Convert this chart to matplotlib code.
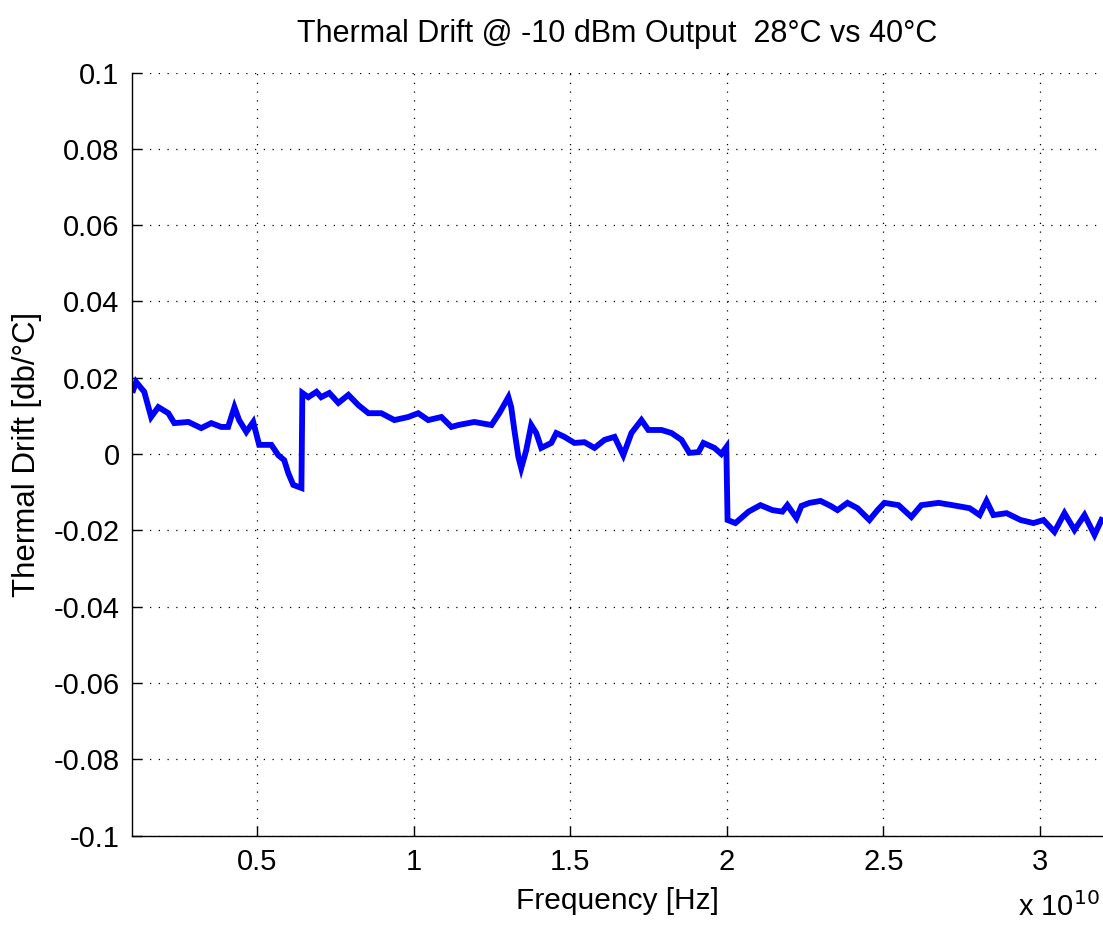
import numpy as np
import matplotlib
matplotlib.use("Agg")
import matplotlib.pyplot as plt
from matplotlib.ticker import FuncFormatter

# ==========================================
# Data
# ==========================================
freq_ghz = [1.04, 1.13, 1.39, 1.61, 1.84, 2.16, 2.35, 2.80, 3.21, 3.53, 3.85, 4.07, 4.27, 4.42, 4.65,
            4.87, 5.06, 5.45, 5.67, 5.86, 5.99, 6.15, 6.41, 6.44, 6.63, 6.89, 7.04, 7.30, 7.59, 7.91,
            8.23, 8.55, 8.96, 9.38, 9.82, 10.14, 10.46, 10.88, 11.20, 11.42, 11.93, 12.48, 12.73, 13.02,
            13.11, 13.21, 13.34, 13.43, 13.59, 13.75, 13.91, 14.07, 14.39, 14.55, 14.81, 15.13, 15.45,
            15.77, 16.09, 16.41, 16.69, 16.95, 17.27, 17.49, 17.91, 18.23, 18.55, 18.80, 19.09, 19.25,
            19.60, 19.82, 19.98, 20.02, 20.27, 20.69, 21.07, 21.45, 21.77, 21.93, 22.22, 22.38, 22.64,
            22.99, 23.31, 23.53, 23.85, 24.17, 24.55, 24.81, 25.03, 25.48, 25.89, 26.21, 26.76, 27.20,
            27.75, 28.07, 28.29, 28.51, 28.93, 29.38, 29.79, 30.11, 30.46, 30.78, 31.10, 31.42, 31.74,
            31.96]

drift_db = [0.0168, 0.0189, 0.0163, 0.0097, 0.0123, 0.0107, 0.0081, 0.0084, 0.0068, 0.0081, 0.0071,
            0.0071, 0.0123, 0.0089, 0.0058, 0.0084, 0.0024, 0.0024, -0.0003, -0.0016, -0.0050, -0.0081,
            -0.0089, 0.0160, 0.0149, 0.0163, 0.0149, 0.0160, 0.0134, 0.0155, 0.0128, 0.0107, 0.0107,
            0.0089, 0.0097, 0.0107, 0.0089, 0.0097, 0.0071, 0.0076, 0.0084, 0.0076, 0.0107, 0.0149,
            0.0123, 0.0063, -0.0008, -0.0037, 0.0010, 0.0076, 0.0055, 0.0016, 0.0029, 0.0055, 0.0045,
            0.0029, 0.0031, 0.0016, 0.0037, 0.0045, -0.0003, 0.0055, 0.0089, 0.0063, 0.0063, 0.0055,
            0.0037, 0.0003, 0.0005, 0.0029, 0.0016, 0.0000, 0.0018, -0.0173, -0.0181, -0.0151, -0.0134,
            -0.0147, -0.0151, -0.0134, -0.0168, -0.0136, -0.0128, -0.0123, -0.0136, -0.0147, -0.0128,
            -0.0142, -0.0173, -0.0147, -0.0128, -0.0134, -0.0165, -0.0134, -0.0128, -0.0134, -0.0142,
            -0.0160, -0.0123, -0.0160, -0.0155, -0.0173, -0.0181, -0.0173, -0.0204, -0.0155, -0.0199,
            -0.0160, -0.0212, -0.0173]

x_ticks = [0.5e10, 1.0e10, 1.5e10, 2.0e10, 2.5e10, 3.0e10]
y_ticks = [-0.1, -0.08, -0.06, -0.04, -0.02, 0, 0.02, 0.04, 0.06, 0.08, 0.1]

# ==========================================
# Plot
# ==========================================
plt.rcParams['font.family'] = ['Liberation Sans', 'DejaVu Sans']
plt.rcParams['axes.unicode_minus'] = False

fig = plt.figure(figsize=(11.03, 9.26), dpi=100)
ax = fig.add_axes([0.1197, 0.0977, 0.880, 0.824])

freq = np.array(freq_ghz) * 1e9
ax.plot(freq, drift_db, color=(0, 0, 1), lw=4.2, solid_joinstyle='miter')

ax.set_xlim(1e9, 3.2e10)
ax.set_ylim(-0.1, 0.1)
ax.set_xticks(x_ticks)
ax.set_yticks(y_ticks)
ax.xaxis.set_major_formatter(FuncFormatter(lambda v, p: '%g' % (v / 1e10)))
ax.yaxis.set_major_formatter(FuncFormatter(lambda v, p: '%g' % round(v, 4)))

ax.grid(True, color='black', linestyle=(0, (1, 6)), lw=0.9)
ax.spines['top'].set_visible(False)
ax.spines['right'].set_visible(False)
for s in ('left', 'bottom'):
    ax.spines[s].set_linewidth(1.0)
ax.tick_params(direction='in', length=7, width=1.0, labelsize=21, pad=9)

ax.set_title('Thermal Drift @ -10 dBm Output  28\u00b0C vs 40\u00b0C', fontsize=22, pad=22)
ax.set_xlabel('Frequency [Hz]', fontsize=21.5, labelpad=8)
ax.set_ylabel('Thermal Drift [db/\u00b0C]', fontsize=22.5, labelpad=8)
fig.text(0.923, 0.004, r'x 10$^{10}$', fontsize=21, ha='left', va='bottom')

fig.savefig('out.png', dpi=100)
